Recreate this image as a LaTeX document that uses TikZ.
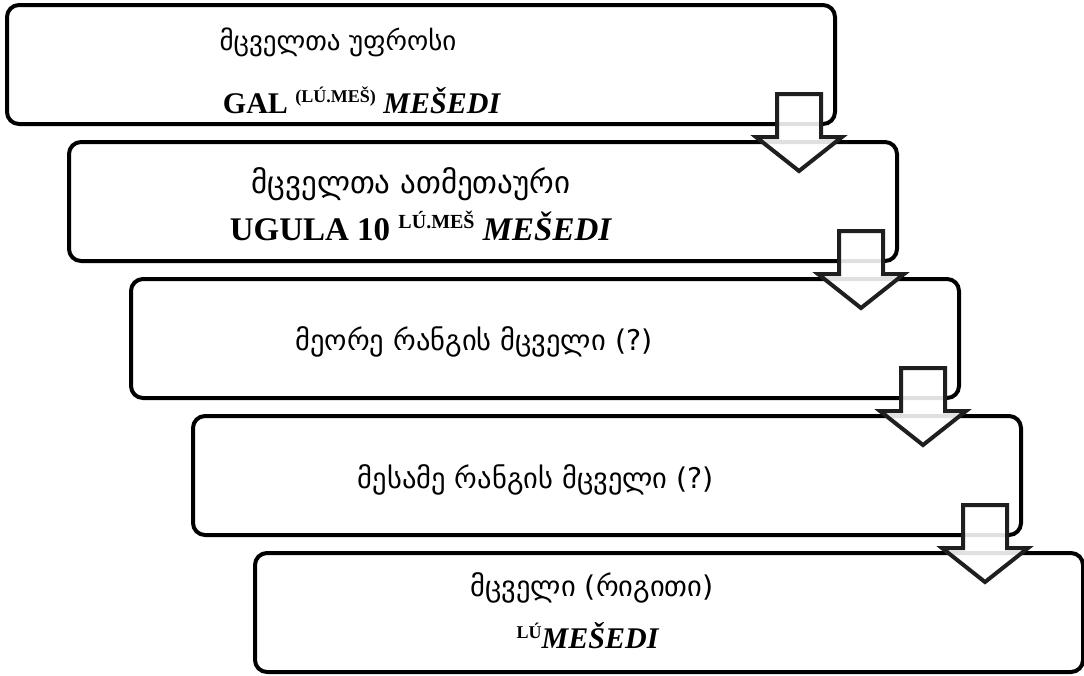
\documentclass[tikz,border=0pt]{standalone}
\usepackage{fontspec}
\setmainfont{Liberation Serif}
\newfontfamily\geo{DejaVu Sans}
\usetikzlibrary{calc}
\newcommand{\supx}[2][18]{\raisebox{0.36em}{\fontsize{#1}{#1}\selectfont #2}}
\tikzset{
  stepbox/.style={draw=black, line width=4pt, rounded corners=12pt, fill=white,
    minimum width=828pt, minimum height=119pt, inner sep=0pt},
  geotxt/.style={inner sep=0pt, font=\geo\fontsize{28.5}{32}\selectfont},
  lattxt/.style={inner sep=0pt, font=\fontsize{30}{36}\selectfont\bfseries},
  downarrow/.style={draw=black!88, line width=4pt, fill=white, fill opacity=0.88, line join=miter}
}
\begin{document}
\begin{tikzpicture}[x=1pt,y=-1pt]
\useasboundingbox (0,0) rectangle (1084,675);
% boxes
\node[stepbox] (b1) at (421,64.5) {};
\node[stepbox] (b2) at (483,201.5) {};
\node[stepbox] (b3) at (545,338.5) {};
\node[stepbox] (b4) at (607,475.5) {};
\node[stepbox] (b5) at (669,612.5) {};
% texts
\node[geotxt, font=\geo\fontsize{27}{32}\selectfont] (t1a) at (338,42) {მცველთა უფროსი};
\node[lattxt] (t1b) at (362,100) {GAL \supx{(LÚ.MEŠ)} \textit{MEŠEDI}};
\node[geotxt, font=\geo\fontsize{31}{36}\selectfont] (t2a) at (411,184) {მცველთა ათმეთაური};
\node[lattxt, font=\fontsize{33}{38}\selectfont\bfseries] (t2b) at (421,226) {UGULA 10 \supx[20]{LÚ.MEŠ} \textit{MEŠEDI}};
\node[geotxt] (t3) at (474,342) {მეორე რანგის მცველი (?)};
\node[geotxt] (t4) at (536,480) {მესამე რანგის მცველი (?)};
\node[geotxt] (t5a) at (592,588) {მცველი (რიგითი)};
\node[lattxt] (t5b) at (588,636) {\supx{LÚ}\textit{MEŠEDI}};
% arrows
\foreach \i in {1,2,3,4}{
  \coordinate (a\i) at ($(b\i.south east)+(-38,0)$);
  \draw[downarrow] ($(a\i)+(-22,-32)$) -- ($(a\i)+(22,-32)$) -- ($(a\i)+(22,11)$)
    -- ($(a\i)+(43,11)$) -- ($(a\i)+(0,45)$) -- ($(a\i)+(-43,11)$)
    -- ($(a\i)+(-22,11)$) -- cycle;
}
\end{tikzpicture}
\end{document}
